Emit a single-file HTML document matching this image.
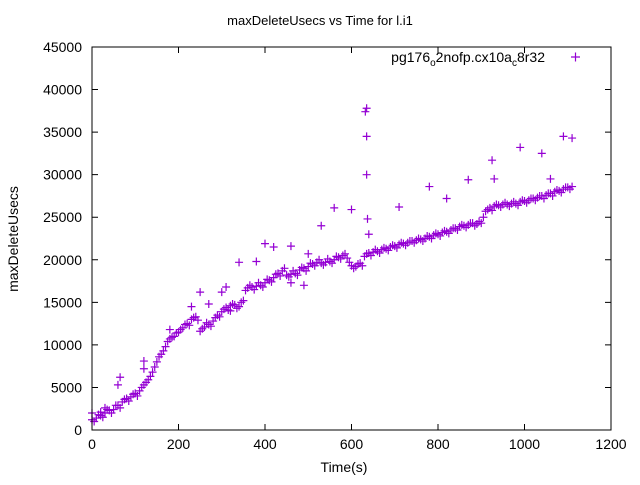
<!DOCTYPE html>
<html><head><meta charset="utf-8"><style>
body{margin:0;background:#fff}
svg{font-family:"Liberation Sans",sans-serif}
</style></head><body>
<svg width="640" height="480" viewBox="0 0 640 480">
<rect width="640" height="480" fill="#fff"/>
<text x="320" y="25" text-anchor="middle" font-size="13">maxDeleteUsecs vs Time for l.i1</text>
<text x="344" y="472" text-anchor="middle" font-size="14">Time(s)</text>
<text transform="translate(18,239) rotate(-90)" text-anchor="middle" font-size="14">maxDeleteUsecs</text>
<g id="axes"></g>
<g id="marks"></g>
<g>
<text x="545" y="62" text-anchor="end" font-size="14">pg176<tspan font-size="10" dy="4">o</tspan><tspan dy="-4">2nofp.cx10a</tspan><tspan font-size="10" dy="4">c</tspan><tspan dy="-4">8r32</tspan></text>
<path d="M571 57h9M575.5 52.5v9" stroke="#9400d3" stroke-width="1.2"/>
</g>
<rect x="92" y="47" width="519" height="383" fill="none" stroke="#000" stroke-width="1"/>
</svg>
<script>
const xTicks=[0,200,400,600,800,1000,1200];
const yTicks=[0,5000,10000,15000,20000,25000,30000,35000,40000,45000];
const times=[0,10,20,30,40,50,60,70,80,90,100,110,120,130,140,150,160,170,180,190,200,210,220,230,240,250,260,270,280,290,300,310,320,330,340,350,360,370,380,390,400,410,420,430,440,450,460,470,480,490,500,510,520,530,540,550,560,570,580,590,600,610,620,630,640,650,660,670,680,690,700,710,720,730,740,750,760,770,780,790,800,810,820,830,840,850,860,870,880,890,900,910,920,930,940,950,960,970,980,990,1000,1010,1020,1030,1040,1050,1060,1070,1080,1090,1100,1110];
const values=[1200,1400,1700,2000,2300,2400,2900,3300,3700,3900,4300,4600,5300,5900,6800,8000,8900,9800,10700,11000,11500,12000,12500,13000,13300,11600,12100,12400,12800,13500,13900,14400,14600,14700,14500,15200,16700,16800,16900,17000,17300,17600,17900,18400,18700,18200,18300,18400,18800,19000,19200,19500,19700,19600,19700,19800,20000,20300,20500,20200,19300,19200,19600,20400,20800,20900,21000,21200,21300,21500,21600,21800,21900,22000,22200,22300,22400,22500,22700,22900,23000,23200,23300,23500,23700,23900,24000,24100,24300,24200,24300,25700,26100,26300,26400,26500,26500,26600,26600,26800,26900,27000,27200,27300,27500,27600,27800,28000,28100,28300,28500,28600];
const times2=[5,15,25,35,45,55,65,75,85,95,105,115,125,135,145,155,165,175,185,195,205,215,225,235,245,255,265,275,285,295,305,315,325,335,345,355,365,375,385,395,405,415,425,435,445,455,465,475,485,495,505,515,525,535,545,555,565,575,585,595,605,615,625,635,645,655,665,675,685,695,705,715,725,735,745,755,765,775,785,795,805,815,825,835,845,855,865,875,885,895,905,915,925,935,945,955,965,975,985,995,1005,1015,1025,1035,1045,1055,1065,1075,1085,1095,1105];
const values2=[1000,1800,1500,2400,2000,2900,2600,3600,3400,4200,4000,5000,5600,6300,7400,8600,9300,10400,10900,11400,11800,12400,12300,13200,12900,11900,12600,12200,13200,13300,14200,14100,14800,14300,15000,16400,17000,16500,17300,16800,17700,17400,18300,18100,19000,18000,18700,18200,19100,18700,19600,19300,20000,19400,20100,19600,20400,20100,20700,19700,19000,19500,19300,20700,20500,21200,20800,21400,21100,21700,21400,22000,21700,22200,22000,22500,22200,22800,22500,23100,22800,23400,23100,23700,23500,24100,23800,24300,24000,24500,25000,25900,25800,26500,26200,26700,26300,26800,26400,27000,26700,27200,27000,27500,27200,27800,27500,28200,27900,28500,28300];
const outTimes=[635,632,635,635,637,640,1090,1110,1040,990,925,930,1060,870,820,780,710,560,600,460,420,400,380,530,300,310,250,270,230,180,120,120,60,65,30,20,0,340,490,460,500,320];
const outValues=[37800,37400,34500,30000,24800,23000,34500,34300,32500,33200,31700,29500,29500,29400,27200,28600,26200,26100,25900,21600,21500,21900,19800,24000,16200,16800,16200,14800,14500,11800,7200,8100,5300,6200,2600,2100,2000,19700,17000,17300,20700,14000];
const X0=92,X1=611,Y0=430,Y1=47;
const sx=v=>X0+(v-0)/1200*(X1-X0);
const sy=v=>Y0-(v-0)/45000*(Y0-Y1);
const NS='http://www.w3.org/2000/svg';
const axes=document.getElementById('axes');
xTicks.forEach(t=>{
 const x=sx(t);
 const p=document.createElementNS(NS,'path');
 p.setAttribute('d',`M${x} ${Y0}v-6M${x} ${Y1}v6`);p.setAttribute('stroke','#000');
 
 
 axes.appendChild(p);
 const tx=document.createElementNS(NS,'text');
 tx.setAttribute('x',x);tx.setAttribute('y',Y0+19);tx.setAttribute('text-anchor','middle');tx.setAttribute('font-size','14');
 tx.textContent=t;
 
 
 axes.appendChild(tx);
});
yTicks.forEach(t=>{
 const y=sy(t);
 const p=document.createElementNS(NS,'path');
 p.setAttribute('d',`M${X0} ${y}h6M${X1} ${y}h-6`);p.setAttribute('stroke','#000');
 
 
 axes.appendChild(p);
 const tx=document.createElementNS(NS,'text');
 tx.setAttribute('x',X0-10);tx.setAttribute('y',y+5);tx.setAttribute('text-anchor','end');tx.setAttribute('font-size','14');
 tx.textContent=t;
 
 
 axes.appendChild(tx);
});
const marks=document.getElementById('marks');
function plus(t,v){
 const x=sx(t),y=sy(v);
 const p=document.createElementNS(NS,'path');
 p.setAttribute('d',`M${x-4} ${y}h8M${x} ${y-4}v8`);
 p.setAttribute('stroke','#9400d3');p.setAttribute('stroke-width','1.2');
 
 
 marks.appendChild(p);
}
times.forEach((t,i)=>plus(t,values[i]));
times2.forEach((t,i)=>plus(t,values2[i]));
outTimes.forEach((t,i)=>plus(t,outValues[i]));
</script>
</body></html>
